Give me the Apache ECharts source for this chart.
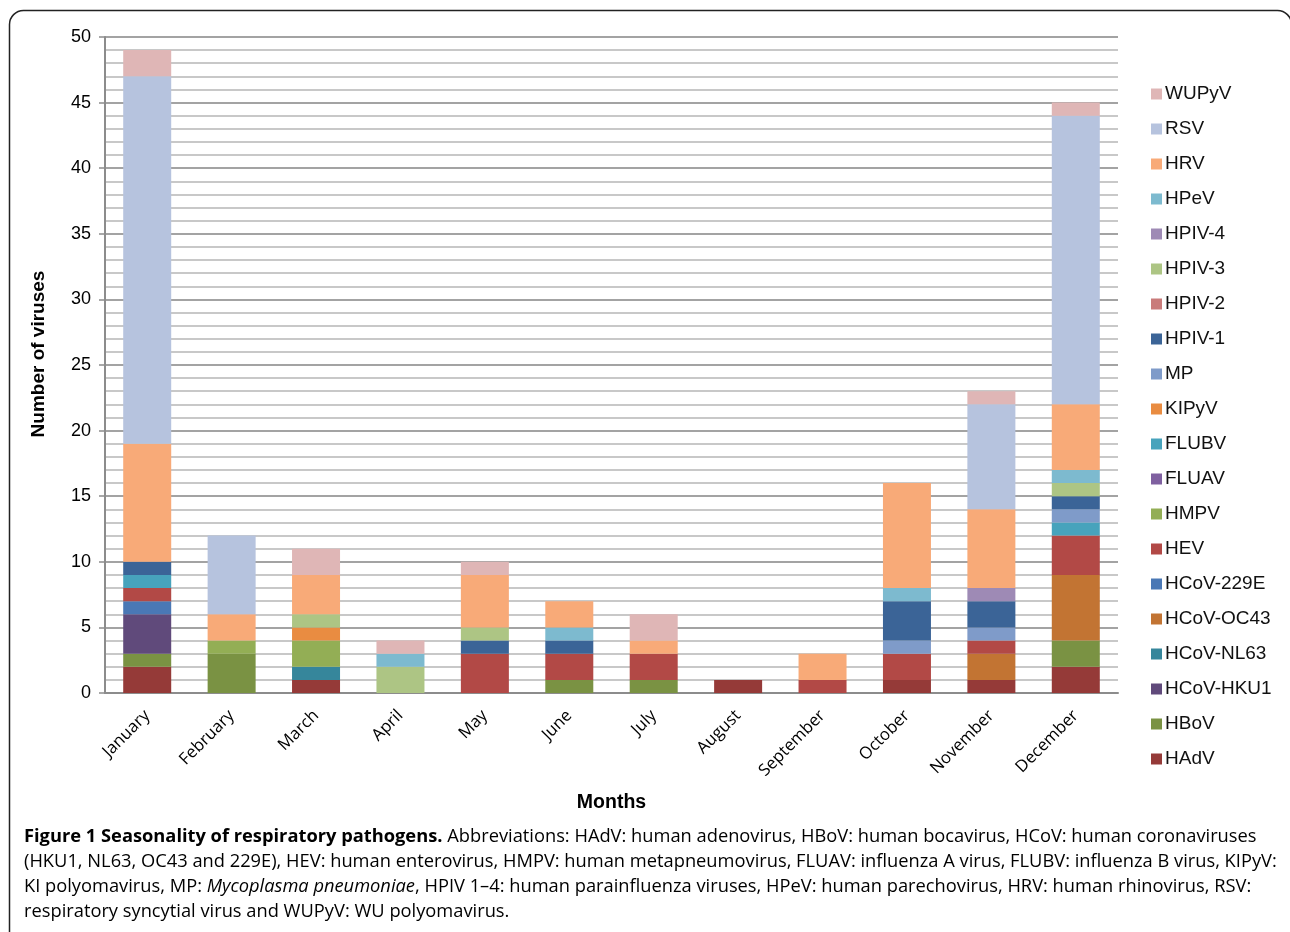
<!DOCTYPE html>
<html>
<head>
<meta charset="utf-8">
<script src="https://cdn.jsdelivr.net/npm/echarts@6/dist/echarts.min.js"></script>
<style>
html,body{margin:0;padding:0;background:#fff;}
#c{width:1290px;height:932px;}
</style>
</head>
<body>
<div id="c"></div>
<script>
const months = ['January','February','March','April','May','June','July','August','September','October','November','December'];
// stack order bottom -> top
const seriesNames = ['HAdV','HBoV','HCoV-HKU1','HCoV-NL63','HCoV-OC43','HCoV-229E','HEV','HMPV','FLUAV','FLUBV','KIPyV','MP','HPIV-1','HPIV-2','HPIV-3','HPIV-4','HPeV','HRV','RSV','WUPyV'];
const colors = ['#953A38','#7A9243','#604A7B','#36869B','#C27433','#4A78B5','#B24946','#93AE55','#7F60A0','#47A3BC','#E98C41','#7F9BC9','#3B6497','#C97B7A','#ADC584','#9E8AB5','#7DBACF','#F8AA78','#B6C3DE','#DFB6B6'];
const HAdV      = [2,0,1,0,0,0,0,1,0,1,1,2];
const HBoV      = [1,3,0,0,0,1,1,0,0,0,0,2];
const HCoV_HKU1 = [3,0,0,0,0,0,0,0,0,0,0,0];
const HCoV_NL63 = [0,0,1,0,0,0,0,0,0,0,0,0];
const HCoV_OC43 = [0,0,0,0,0,0,0,0,0,0,2,5];
const HCoV_229E = [1,0,0,0,0,0,0,0,0,0,0,0];
const HEV       = [1,0,0,0,3,2,2,0,1,2,1,3];
const HMPV      = [0,1,2,0,0,0,0,0,0,0,0,0];
const FLUAV     = [0,0,0,0,0,0,0,0,0,0,0,0];
const FLUBV     = [1,0,0,0,0,0,0,0,0,0,0,1];
const KIPyV     = [0,0,1,0,0,0,0,0,0,0,0,0];
const MP        = [0,0,0,0,0,0,0,0,0,1,1,1];
const HPIV_1    = [1,0,0,0,1,1,0,0,0,3,2,1];
const HPIV_2    = [0,0,0,0,0,0,0,0,0,0,0,0];
const HPIV_3    = [0,0,1,2,1,0,0,0,0,0,0,1];
const HPIV_4    = [0,0,0,0,0,0,0,0,0,0,1,0];
const HPeV      = [0,0,0,1,0,1,0,0,0,1,0,1];
const HRV       = [9,2,3,0,4,2,1,0,2,8,6,5];
const RSV       = [28,6,0,0,0,0,0,0,0,0,8,22];
const WUPyV     = [2,0,2,1,1,0,2,0,0,0,1,1];
const allData = [HAdV,HBoV,HCoV_HKU1,HCoV_NL63,HCoV_OC43,HCoV_229E,HEV,HMPV,FLUAV,FLUBV,KIPyV,MP,HPIV_1,HPIV_2,HPIV_3,HPIV_4,HPeV,HRV,RSV,WUPyV];
const yTicks = {min:0,max:50,interval:5};

const chart = echarts.init(document.getElementById('c'));
const capFont = '"Open Sans", "Noto Sans", sans-serif';
const capSize = 18.3;
const capRich = {
  b:{fontFamily:capFont,fontSize:capSize,fontWeight:'bold',color:'#000',lineHeight:24},
  n:{fontFamily:capFont,fontSize:capSize,color:'#3a3a3a',lineHeight:24},
  i:{fontFamily:capFont,fontSize:capSize,fontStyle:'italic',color:'#3a3a3a',lineHeight:24}
};
const capLines = [
  '{b|Figure 1 Seasonality of respiratory pathogens.}{n| Abbreviations: HAdV: human adenovirus, HBoV: human bocavirus, HCoV: human coronaviruses}',
  '{n|(HKU1, NL63, OC43 and 229E), HEV: human enterovirus, HMPV: human metapneumovirus, FLUAV: influenza A virus, FLUBV: influenza B virus, KIPyV:}',
  '{n|KI polyomavirus, MP: }{i|Mycoplasma pneumoniae}{n|, HPIV 1–4: human parainfluenza viruses, HPeV: human parechovirus, HRV: human rhinovirus, RSV:}',
  '{n|respiratory syncytial virus and WUPyV: WU polyomavirus.}'
];
const graphics = [{
  type:'rect', shape:{x:9.5,y:10.5,width:1282,height:960,r:14},
  style:{fill:'none',stroke:'#222',lineWidth:1.5}, silent:true, z:-1
}];
capLines.forEach((t,k)=>{
  graphics.push({type:'text', left:24, top:828+k*25, style:{text:t, rich:capRich, fontFamily:capFont, fontSize:capSize}});
});

const axFont = '"Liberation Sans", Arial, sans-serif';
chart.setOption({
  animation:false,
  color:colors,
  grid:{left:105,right:172,top:37,bottom:239,containLabel:false},
  legend:{
    orient:'vertical', left:1146, top:79,
    data:seriesNames.slice().reverse(),
    itemWidth:11, itemHeight:11, itemGap:15,
    icon:'rect',
    textStyle:{fontFamily:axFont,fontSize:19,color:'#111',lineHeight:20,padding:[0,0,0,-2]},
    selectedMode:false
  },
  xAxis:{
    type:'category', data:months,
    name:'Months', nameLocation:'middle', nameGap:100,
    nameTextStyle:{fontFamily:axFont,fontSize:19.5,fontWeight:'bold',color:'#000'},
    axisLine:{lineStyle:{color:'#8c8c8c',width:2}},
    axisTick:{show:false},
    axisLabel:{rotate:45,fontFamily:'"Open Sans", "Noto Sans", sans-serif',fontSize:16.7,color:'#000',margin:20,interval:0}
  },
  yAxis:{
    type:'value', min:yTicks.min, max:yTicks.max, interval:yTicks.interval,
    name:'Number of viruses', nameLocation:'middle', nameGap:57,
    nameTextStyle:{fontFamily:axFont,fontSize:19,fontWeight:'bold',color:'#000',padding:[0,0,0,22]},
    axisLine:{show:true,lineStyle:{color:'#8c8c8c',width:2}},
    axisTick:{show:true,length:6,lineStyle:{color:'#8c8c8c',width:1.5}},
    axisLabel:{fontFamily:axFont,fontSize:18,color:'#000',margin:14},
    splitLine:{lineStyle:{color:'#a3a3a3',width:2}},
    minorTick:{show:false,splitNumber:5},
    minorSplitLine:{show:true,lineStyle:{color:'#c8c8c8',width:2}}
  },
  series:seriesNames.map((n,k)=>({
    name:n, type:'bar', stack:'total', barWidth:48,
    data:allData[k],
    itemStyle:{color:colors[k]},
    emphasis:{disabled:true}
  })),
  graphic:graphics
});
</script>
</body>
</html>
